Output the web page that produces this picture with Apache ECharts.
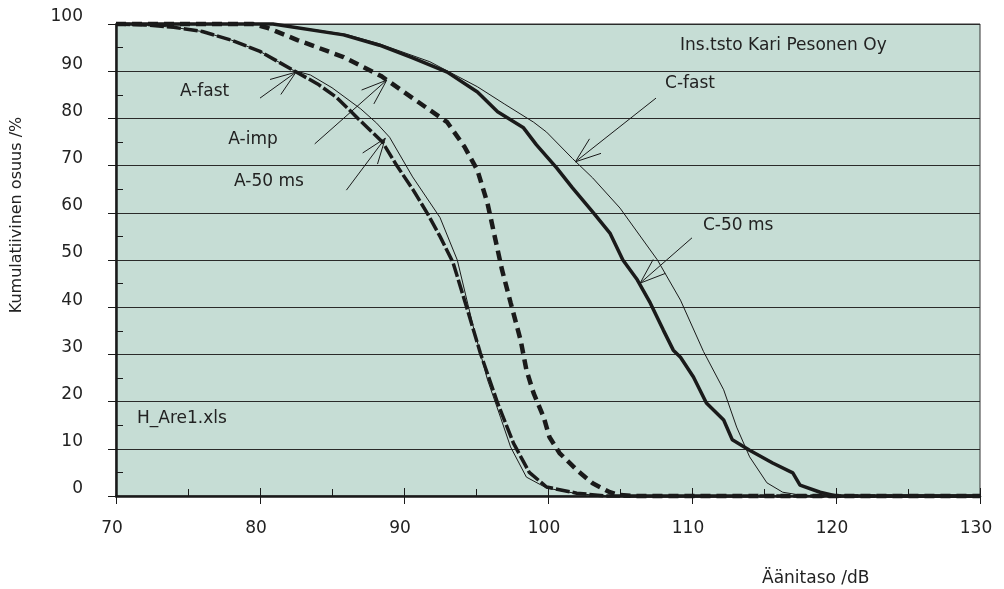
<!DOCTYPE html>
<html>
<head>
<meta charset="utf-8">
<script src="https://cdn.jsdelivr.net/npm/echarts@6/dist/echarts.min.js"></script>
<style>
  html, body { margin: 0; padding: 0; background: #fff; }
  #chart { width: 1004px; height: 589px; }
</style>
</head>
<body>
<div id="chart"></div>
<script>
// [dB, cumulative %]
const aFast = [[70, 100], [72, 99.8], [74, 99.3], [76, 98.4], [78, 96.6], [80, 94.2], [82.3, 90.2], [83.5, 89.2],
  [85, 86.5], [87, 82], [88.1, 79], [89, 76], [90.6, 67.6], [92.5, 59], [93.7, 50], [94.8, 36], [95.8, 24.6],
  [96.7, 16.7], [97.4, 10.4], [98.5, 4], [99.9, 1.7], [102, 0.5], [104, 0], [130, 0]]
const a50 = [[70, 100], [72, 99.8], [74, 99.3], [76, 98.4], [78, 96.6], [80, 94.2], [82.3, 90.2], [84, 87.3],
  [85.3, 84.5], [86.9, 79.7], [88.5, 75], [89.5, 70], [90.6, 65], [91.6, 60], [92.5, 55], [93.4, 49.5],
  [94.4, 39.5], [95.3, 30.3], [96.5, 19.7], [97.6, 11.2], [98.7, 5], [99.9, 1.9], [102, 0.6], [104, 0], [130, 0]]
const aImp = [[70, 100], [79.5, 100], [80.5, 99.2], [82.6, 96.6], [85.8, 93], [88.4, 89], [90.6, 84.3], [93, 79.2],
  [94.2, 74], [95.1, 69], [95.8, 62], [96.3, 55], [96.8, 48], [97.4, 41], [98.1, 33], [98.5, 26.7], [99, 21.8],
  [99.7, 16.7], [100.1, 12.5], [100.8, 9.1], [102, 5.5], [103.1, 2.7], [104.3, 0.8], [105, 0.2], [106, 0], [130, 0]]
const cFast = [[70, 100], [81, 100], [86, 97.8], [88.3, 95.8], [91.8, 92], [95.1, 86.7], [97, 83], [99, 79.2],
  [99.9, 77.1], [101.7, 71.5], [103.1, 67.4], [105, 61], [107.6, 50], [109.2, 41.5], [110.8, 30.6], [112.2, 22.5],
  [113.1, 14.6], [114, 8.3], [115.2, 2.8], [116.3, 0.8], [117.5, 0.2], [119, 0], [130, 0]]
const c50 = [[70, 100], [80.9, 100], [85.8, 97.7], [88.3, 95.5], [90.6, 92.8], [93, 89.8], [95.1, 85.6], [96.5, 81.4],
  [98.3, 78], [99.2, 74.4], [100.6, 69.5], [101.7, 65.3], [103.1, 60.2], [104.3, 55.7], [105.2, 50], [106.2, 45.8],
  [107.1, 40.9], [108, 35.2], [108.7, 30.9], [109.2, 29.4], [110.1, 25.2], [111, 19.7], [112.2, 16.1], [112.8, 11.9],
  [114, 9.7], [115.6, 7], [117, 4.9], [117.5, 2.3], [118.9, 0.8], [120, 0], [130, 0]]

// labels in the plot: text, left x (dB), middle y (%)
const noteText = ['A-fast', 'A-imp', 'A-50 ms', 'C-fast', 'C-50 ms', 'Ins.tsto Kari Pesonen Oy', 'H_Are1.xls']
const notePos = [[74.44, 85.6], [77.8, 75.5], [78.2, 66.6], [108.13, 87.3], [110.76, 57.2], [109.17, 95.5], [71.46, 16.4]]
// arrows: tail x, tail y, head x, head y
const arrows = [[80.0, 84.3, 82.5, 89.8], [83.8, 74.6, 88.8, 88.1], [86.0, 64.8, 88.7, 75.8],
  [107.5, 84.3, 101.9, 70.8], [110.0, 54.7, 106.4, 45.1]]

const font = '"DejaVu Sans", Verdana, sans-serif'
const ink = '#1a1a1a'

const renderArrow = (params, api) => {
  const tail = api.coord([api.value(0), api.value(1)])
  const head = api.coord([api.value(2), api.value(3)])
  const ang = Math.atan2(tail[1] - head[1], tail[0] - head[0])
  const arm = 27, spread = 0.35
  const segs = [[tail, head],
    [head, [head[0] + arm * Math.cos(ang + spread), head[1] + arm * Math.sin(ang + spread)]],
    [head, [head[0] + arm * Math.cos(ang - spread), head[1] + arm * Math.sin(ang - spread)]]]
  return {
    type: 'group',
    children: segs.map(s => ({
      type: 'line',
      shape: { x1: s[0][0], y1: s[0][1], x2: s[1][0], y2: s[1][1] },
      style: { stroke: ink, lineWidth: 1 }
    }))
  }
}

const renderNote = (params, api) => {
  const p = api.coord([api.value(0), api.value(1)])
  return {
    type: 'text', x: p[0], y: p[1],
    style: { text: noteText[params.dataIndex], fill: '#222', font: '17px ' + font, align: 'left', verticalAlign: 'middle' }
  }
}

const line = (name, data, width, type) => ({
  name, type: 'line', data, showSymbol: false, symbol: 'none', clip: false,
  lineStyle: { color: ink, width, type: type || 'solid' }, z: 3
})

const chart = echarts.init(document.getElementById('chart'), null, { renderer: 'canvas' })
chart.setOption({
  animation: false,
  textStyle: { fontFamily: font },
  grid: {
    left: 116, right: 24, top: 24, bottom: 93, show: true,
    backgroundColor: '#c6ddd5', borderColor: '#333', borderWidth: 1, outerBoundsMode: 'none'
  },
  xAxis: [
    {
      type: 'value', min: 70, max: 130, interval: 10, position: 'bottom',
      axisLine: { lineStyle: { color: ink, width: 2.5 } },
      axisTick: { show: true, inside: false, length: 8, lineStyle: { color: ink, width: 1 } },
      axisLabel: { color: '#222', fontSize: 17, fontFamily: font, margin: 24, padding: [0, 8, 0, 0] },
      splitLine: { show: false }
    },
    {
      type: 'value', min: 70, max: 130, interval: 10, position: 'bottom',
      axisLine: { show: false },
      axisTick: { show: true, inside: true, length: 8, lineStyle: { color: ink, width: 1 } },
      minorTick: { show: true, splitNumber: 2, length: 7, lineStyle: { color: ink, width: 1 } },
      axisLabel: { show: false }, splitLine: { show: false }
    }
  ],
  yAxis: [
    {
      type: 'value', min: 0, max: 100, interval: 10, position: 'left',
      axisLine: { show: true, lineStyle: { color: ink, width: 2.5 } },
      axisTick: { show: true, inside: false, length: 8, lineStyle: { color: ink, width: 1 } },
      axisLabel: { color: '#222', fontSize: 17, fontFamily: font, margin: 33, verticalAlign: 'bottom', lineHeight: 14 },
      splitLine: { show: true, lineStyle: { color: '#2a2a2a', width: 1 } }
    },
    {
      type: 'value', min: 0, max: 100, interval: 10, position: 'left',
      axisLine: { show: false },
      axisTick: { show: false, inside: true },
      minorTick: { show: true, splitNumber: 2, length: 7, lineStyle: { color: ink, width: 1 } },
      axisLabel: { show: false }, splitLine: { show: false }
    }
  ],
  graphic: [
    { type: 'text', left: 762, top: 570, style: { text: 'Äänitaso /dB', fill: '#222', font: '17px ' + font } },
    {
      type: 'text', x: 17, y: 215, rotation: Math.PI / 2,
      style: { text: 'Kumulatiivinen osuus /%', fill: '#222', font: '16px ' + font, align: 'center', verticalAlign: 'middle' }
    }
  ],
  series: [
    line('A-50 ms', a50, 3.5, [14, 3]),
    line('A-fast', aFast, 1),
    line('A-imp', aImp, 4.5, [10, 6]),
    line('C-50 ms', c50, 3.5),
    line('C-fast', cFast, 1),
    {
      type: 'custom', renderItem: renderArrow, data: arrows, encode: { x: [0, 2], y: [1, 3] }, z: 5, silent: true
    },
    {
      type: 'custom', renderItem: renderNote, data: notePos, encode: { x: 0, y: 1 }, z: 6, silent: true
    }
  ]
})
</script>
</body>
</html>
